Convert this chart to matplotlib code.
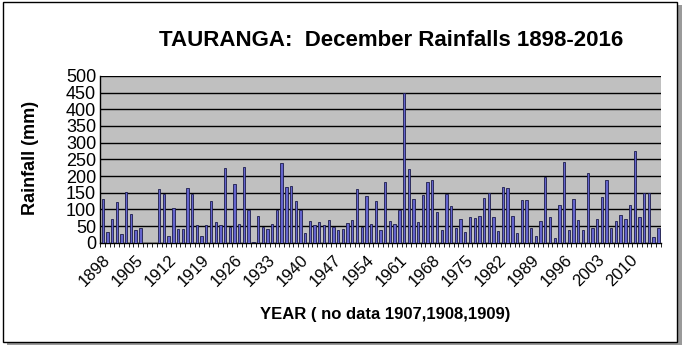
import numpy as np
import matplotlib
matplotlib.use('Agg')
import matplotlib.pyplot as plt
from matplotlib.patches import Rectangle

plt.rcParams['font.family'] = ['Liberation Sans', 'DejaVu Sans']

# December rainfall at Tauranga (mm), 1898-2016; no data 1907-1909
years = np.arange(1898, 2017)
rain = [131, 32, 73, 123, 28, 151, 87, 39, 45, np.nan,
        np.nan, np.nan, 162, 147, 22, 105, 41, 43, 164, 147,
        55, 22, 53, 124, 62, 54, 223, 47, 175, 58,
        226, 99, 4, 80, 49, 42, 58, 99, 238, 166,
        170, 126, 99, 30, 65, 53, 62, 55, 69, 48,
        38, 42, 60, 68, 160, 48, 140, 58, 125, 38,
        181, 66, 58, 98, 448, 222, 132, 62, 143, 182,
        188, 94, 39, 146, 109, 46, 72, 34, 78, 76,
        80, 133, 148, 78, 37, 168, 163, 81, 30, 129,
        129, 46, 22, 67, 198, 78, 15, 112, 241, 38,
        131, 70, 39, 208, 45, 72, 136, 188, 45, 65,
        85, 71, 113, 275, 78, 148, 148, 18, 45]
tick_years = years[::7]

fig = plt.figure(figsize=(6.85, 3.48), dpi=100)

# outer frame with shadow
fig.patches.append(Rectangle((0.010, 0.010), 0.985, 0.975, transform=fig.transFigure,
                             facecolor='#9a9a9a', edgecolor='none', zorder=-2))
fig.patches.append(Rectangle((0.004, 0.018), 0.985, 0.975, transform=fig.transFigure,
                             facecolor='white', edgecolor='black', lw=1.0, zorder=-1))

ax = fig.add_axes([0.1465, 0.302, 0.818, 0.48])
ax.set_facecolor('#c0c0c0')
ax.bar(years, rain, width=0.5, color='#6464cc', edgecolor='#1c1c4c', linewidth=0.6, zorder=3)

ax.set_xlim(1897.5, 2016.5)
ax.set_ylim(0, 500)
ax.set_yticks(np.arange(0, 501, 50))
ax.yaxis.grid(True, color='black', linewidth=1.0, zorder=1)
ax.set_axisbelow(True)
ax.tick_params(axis='y', labelsize=13, length=0, pad=3)

ax.set_xticks(tick_years)
ax.set_xticklabels([str(y) for y in tick_years], rotation=45, ha='right', va='top',
                   rotation_mode='anchor', fontsize=12)
ax.set_xticks(np.arange(1897.5, 2017, 1), minor=True)
ax.tick_params(axis='x', which='major', length=0, pad=7)
ax.tick_params(axis='x', which='minor', length=3, width=0.6, direction='out')

for s in ['top', 'right']:
    ax.spines[s].set_visible(False)
ax.spines['left'].set_linewidth(1.0)
ax.spines['bottom'].set_linewidth(1.0)

fig.text(0.571, 0.885, 'TAURANGA:  December Rainfalls 1898-2016', fontsize=16,
         fontweight='bold', ha='center', va='center')
fig.text(0.044, 0.545, 'Rainfall (mm)', fontsize=13, fontweight='bold',
         rotation=90, ha='center', va='center')
fig.text(0.562, 0.095, 'YEAR ( no data 1907,1908,1909)', fontsize=12,
         fontweight='bold', ha='center', va='center')

fig.savefig('out.png', dpi=100)
